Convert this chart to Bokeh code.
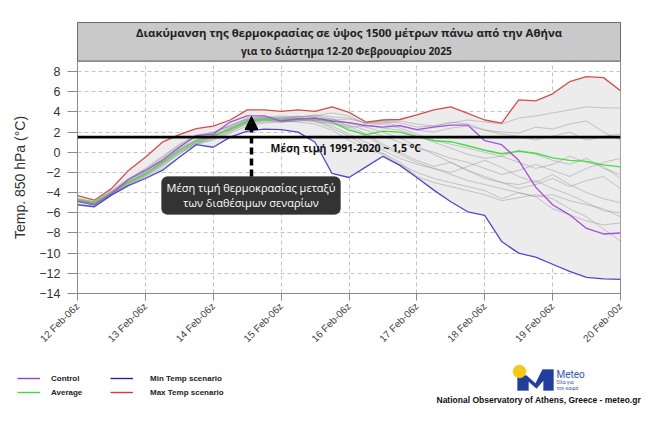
import numpy as np
from math import pi
from bokeh.plotting import figure
from bokeh.layouts import column
from bokeh.models import (Range1d, FixedTicker, Span, Label, BoxAnnotation, PolyAnnotation,
                          Arrow, NormalHead, Legend, LegendItem)
from bokeh.embed import file_html
from bokeh.resources import INLINE

# ---------------- data ----------------
tick_labels = ["12 Feb-06z", "13 Feb-06z", "14 Feb-06z", "15 Feb-06z", "16 Feb-06z",
               "17 Feb-06z", "18 Feb-06z", "19 Feb-06z", "20 Feb-00z"]
steps = list(range(33))

max_scn = [-4.3, -4.75, -3.6, -1.8, -0.5, 1.0, 1.75, 2.35, 2.6, 3.2, 4.2, 4.2, 4.05, 4.2, 4.05, 4.5, 3.95,
           3.0, 3.2, 3.25, 3.7, 4.2, 4.5, 3.85, 3.2, 2.9, 5.2, 5.1, 5.8, 7.0, 7.5, 7.4, 6.1]
min_scn = [-5.2, -5.4, -4.25, -3.3, -2.6, -1.8, -0.5, 0.75, 0.5, 1.5, 2.1, 2.3, 2.25, 2.0, 1.0, -2.1, -2.5,
           -1.45, -0.4, -1.3, -2.5, -3.75, -4.9, -5.9, -6.25, -8.85, -10.0, -10.4, -11.1, -11.8, -12.4, -12.55, -12.6]
control = [-4.85, -5.2, -4.1, -2.7, -1.8, -0.8, 0.5, 1.65, 1.8, 3.0, 3.6, 3.6, 3.1, 3.3, 3.4, 3.1, 2.95,
           2.65, 2.5, 2.65, 2.25, 2.5, 2.7, 2.7, 1.15, 0.75, -0.8, -3.45, -5.2, -6.2, -7.55, -8.1, -8.0]
average = [-4.75, -5.0, -4.0, -2.95, -2.1, -1.0, 0.2, 1.15, 1.65, 2.3, 3.1, 3.3, 3.2, 3.3, 3.35, 3.0, 2.2,
           1.75, 2.1, 2.0, 1.55, 1.15, 1.05, 0.65, 0.2, -0.15, 0.1, -0.1, -0.55, -0.8, -0.9, -1.25, -1.45]

member_01 = [-4.6, -4.9, -3.8, -2.6, -1.6, -0.4, 0.8, 1.7, 2.0, 2.6, 3.4, 3.5, 3.6, 3.5, 3.6, 3.9, 3.6,
             2.8, 2.9, 3.1, 2.8, 2.6, 2.9, 3.2, 3.0, 2.8, 3.4, 3.6, 3.9, 4.2, 4.5, 4.4, 4.4]
member_02 = [-4.8, -5.1, -4.1, -3.0, -2.2, -1.2, 0.0, 1.0, 1.5, 2.4, 3.0, 3.2, 3.0, 3.1, 3.3, 3.2, 3.3,
             2.9, 3.0, 2.6, 2.2, 2.0, 2.4, 2.6, 2.2, 2.0, 1.9, 2.5, 2.3, 2.8, 3.1, 2.0, 1.2]
member_03 = [-4.9, -5.2, -4.2, -3.1, -2.3, -1.3, -0.2, 0.9, 1.4, 2.0, 2.9, 3.1, 3.4, 3.6, 3.1, 2.6, 1.8,
             1.0, 0.2, -0.6, -1.2, -1.6, -2.0, -1.4, -0.8, -1.5, -2.4, -3.0, -2.2, -3.2, -4.0, -4.6, -5.0]
member_04 = [-4.7, -5.0, -3.9, -2.8, -1.9, -0.8, 0.4, 1.3, 1.8, 2.5, 3.2, 3.4, 3.1, 3.0, 2.8, 2.2, 1.2,
             0.3, -0.2, -1.2, -2.0, -2.6, -3.0, -3.4, -3.8, -4.6, -4.0, -4.4, -5.6, -6.2, -6.8, -7.2, -7.0]
member_05 = [-4.9, -5.3, -4.2, -3.2, -2.5, -1.6, -0.5, 0.8, 1.2, 1.9, 2.6, 2.9, 3.0, 3.2, 3.4, 3.3, 2.9,
             2.5, 2.0, 1.4, 0.6, -0.2, -1.0, -1.8, -2.6, -3.0, -3.2, -2.8, -3.6, -4.2, -5.0, -5.8, -6.0]
member_06 = [-4.8, -5.1, -4.0, -2.9, -2.0, -0.9, 0.3, 1.2, 1.7, 2.2, 3.0, 3.2, 3.3, 3.4, 3.2, 2.8, 2.5,
             2.6, 2.8, 2.4, 1.8, 1.2, 0.8, 0.4, 0.0, -0.4, 0.2, -0.2, -0.8, -1.2, -0.6, -1.6, -2.2]
member_07 = [-4.7, -5.0, -4.0, -2.7, -1.8, -0.6, 0.6, 1.5, 1.9, 2.7, 3.3, 3.4, 3.3, 3.5, 3.6, 3.3, 2.6,
             1.8, 0.8, 0.0, -0.8, -1.4, -1.0, -1.8, -2.4, -3.0, -3.6, -3.2, -2.6, -3.4, -2.8, -2.4, -3.6]
member_08 = [-4.8, -5.2, -4.1, -3.0, -2.2, -1.1, 0.1, 1.0, 1.6, 2.3, 3.1, 3.3, 3.1, 3.2, 3.0, 2.9, 2.7,
             2.2, 1.6, 1.0, 0.4, 0.0, -0.6, -1.0, -1.6, -2.2, -1.8, -1.2, -1.8, -2.4, -1.6, -1.0, -0.6]
member_09 = [-4.9, -5.2, -4.2, -3.2, -2.4, -1.4, -0.1, 0.8, 1.3, 2.1, 2.8, 3.0, 3.2, 3.3, 3.1, 2.4, 1.6,
             0.6, -0.1, -1.0, -2.4, -3.0, -3.4, -3.8, -4.2, -4.8, -4.5, -4.2, -4.6, -5.6, -6.4, -7.6, -8.8]
member_10 = [-4.6, -4.9, -3.9, -2.7, -1.7, -0.5, 0.7, 1.6, 2.0, 2.6, 3.3, 3.5, 3.4, 3.5, 3.7, 3.5, 3.4,
             2.9, 3.1, 2.9, 2.5, 2.6, 3.0, 2.8, 2.2, 1.8, 1.6, 1.2, 1.6, 2.0, 1.2, 1.6, 1.8]
member_11 = [-4.8, -5.1, -4.0, -2.9, -2.1, -1.0, 0.2, 1.1, 1.6, 2.4, 3.2, 3.3, 3.5, 3.3, 3.2, 3.1, 2.9,
             2.7, 2.4, 2.2, 1.6, 1.0, 0.4, -0.2, -0.6, -0.4, -1.0, -1.6, -1.2, -0.4, -1.0, -1.4, -2.6]
member_12 = [-4.9, -5.2, -4.2, -3.1, -2.3, -1.2, 0.0, 0.9, 1.5, 2.2, 2.9, 3.2, 3.0, 3.1, 3.2, 3.0, 2.4,
             1.6, 0.6, -0.2, -1.0, -1.6, -2.2, -2.8, -3.2, -3.6, -4.0, -4.4, -4.2, -4.8, -5.2, -5.6, -6.4]
members = [member_01, member_02, member_03, member_04, member_05, member_06,
           member_07, member_08, member_09, member_10, member_11, member_12]

climate_mean = 1.5

FONT = "Liberation Sans"
GFONT = "Open Sans"
W = 661


def blank(height):
    # ranges far away from the data so that legend-only renderers stay invisible
    f = figure(width=W, height=height, x_range=Range1d(1000, 1001), y_range=Range1d(1000, 1001),
               x_axis_type=None, y_axis_type=None, output_backend="svg", toolbar_location=None,
               min_border=0)
    f.frame_align = False
    f.outline_line_color = None
    f.background_fill_color = "white"
    f.border_fill_color = "white"
    return f


# ---------------- title strip (image y 0..61) ----------------
ft = blank(61)
ft.add_layout(BoxAnnotation(left=77, right=620, top=61 - 22, bottom=0.5,
                            left_units="screen", right_units="screen", top_units="screen",
                            bottom_units="screen", fill_color="#c9c9c9", fill_alpha=1,
                            line_color="#6a6a6a", line_width=1, line_alpha=1))
for txt, yy, fs in [("Διακύμανση της θερμοκρασίας σε ύψος 1500 μέτρων πάνω από την Αθήνα", 32, "11.4px"),
                    ("για το διάστημα  12-20 Φεβρουαρίου  2025", 50, "10.2px")]:
    ft.add_layout(Label(x=348.5, y=61 - yy, x_units="screen", y_units="screen", text=txt,
                        text_font=GFONT, text_font_size=fs, text_font_style="bold",
                        text_color="#222222", text_align="center", text_baseline="middle"))

# ---------------- main chart (image y 61..360) ----------------
p = figure(width=W, height=299, x_range=Range1d(0, 32), y_range=Range1d(-14, 9),
           output_backend="svg", toolbar_location=None,
           min_border_left=77, min_border_right=41, min_border_top=0, min_border_bottom=67)
p.frame_align = False
p.background_fill_color = "white"
p.border_fill_color = "white"
p.outline_line_color = "#8a8a8a"

p.varea(x=steps, y1=min_scn, y2=max_scn, fill_color="#ececec")
p.multi_line(xs=[steps] * len(members), ys=members, line_color="#8c8c8c",
             line_width=0.8, line_alpha=0.55)
p.line(steps, average, line_color="#45dd45", line_width=1.4)
p.line(steps, control, line_color="#a64ee6", line_width=1.3)
p.line(steps, min_scn, line_color="#4a4ad0", line_width=1.3)
p.line(steps, max_scn, line_color="#d64c4c", line_width=1.3)

tick_pos = [0, 4, 8, 12, 16, 20, 24, 28, 32]
p.xaxis.ticker = FixedTicker(ticks=tick_pos)
p.xaxis.major_label_overrides = {t: l for t, l in zip(tick_pos, tick_labels)}
p.xaxis.major_label_orientation = pi / 4
p.xaxis.major_label_text_font = FONT
p.xaxis.major_label_text_font_size = "10px"
p.xaxis.major_label_text_color = "#444444"
p.xaxis.axis_line_color = "#8a8a8a"
p.xaxis.major_tick_line_color = "#8a8a8a"
p.xaxis.major_tick_out = 7
p.xaxis.major_tick_in = 0
p.xaxis.minor_tick_line_color = None
p.xaxis.major_label_standoff = 4

p.yaxis.ticker = FixedTicker(ticks=list(range(-14, 9, 2)))
p.yaxis.major_label_text_font = FONT
p.yaxis.major_label_text_font_size = "12.5px"
p.yaxis.major_label_text_color = "#333333"
p.yaxis.axis_line_color = "#8a8a8a"
p.yaxis.major_tick_line_color = "#8a8a8a"
p.yaxis.major_tick_out = 10
p.yaxis.major_tick_in = 0
p.yaxis.minor_tick_line_color = None
p.yaxis.major_label_standoff = 7
p.yaxis.axis_label = "Temp. 850 hPa (°C)"
p.yaxis.axis_label_text_font = FONT
p.yaxis.axis_label_text_font_size = "14px"
p.yaxis.axis_label_text_font_style = "normal"
p.yaxis.axis_label_text_color = "#333333"
p.yaxis.axis_label_standoff = 8

p.xgrid.ticker = FixedTicker(ticks=tick_pos)
p.ygrid.ticker = FixedTicker(ticks=list(range(-14, 9, 2)))
for g in (p.xgrid, p.ygrid):
    g.grid_line_color = "#c4c4c4"
    g.grid_line_dash = "4 3"
    g.grid_line_width = 1

p.add_layout(Span(location=climate_mean, dimension="width", line_color="black", line_width=2.6))


def sx(X):
    return X - 77


def sy(Y):
    return 293 - Y


p.add_layout(Label(x=sx(270), y=sy(147), x_units="screen", y_units="screen",
                   text="Μέση τιμή 1991-2020  ~ 1,5 °C", text_font=GFONT, text_font_size="10.5px",
                   text_font_style="bold", text_color="#111111", text_baseline="middle"))

p.add_layout(BoxAnnotation(left=sx(161), right=sx(340), top=sy(176), bottom=sy(214),
                           left_units="screen", right_units="screen", top_units="screen",
                           bottom_units="screen", fill_color="#333333", fill_alpha=1,
                           line_color="#333333", border_radius=6))
for txt, yy in [("Μέση τιμή θερμοκρασίας μεταξύ", 187), ("των διαθέσιμων σεναρίων", 202)]:
    p.add_layout(Label(x=sx(250.5), y=sy(yy), x_units="screen", y_units="screen", text=txt,
                       text_font=GFONT, text_font_size="11px", text_color="white",
                       text_align="center", text_baseline="middle"))
p.add_layout(Arrow(x_start=sx(251), y_start=sy(176), x_end=sx(251), y_end=sy(116),
                   start_units="screen", end_units="screen", line_color="black",
                   line_width=3.5, line_dash="7 4",
                   end=NormalHead(size=13, fill_color="black", line_color="black", line_width=1)))

# ---------------- bottom strip (image y 360..428) ----------------
fb = blank(68)


def by(Y):
    return 428 - Y


# legend swatches: the same series, drawn outside this strip's visible range
e_ctrl = fb.line(steps, control, line_color="#9b3fd9", line_width=1.4)
e_avg = fb.line(steps, average, line_color="#3fdc3f", line_width=1.4)
e_min = fb.line(steps, min_scn, line_color="#2222aa", line_width=1.4)
e_max = fb.line(steps, max_scn, line_color="#d83a3a", line_width=1.4)

leg1 = Legend(items=[LegendItem(label="Control", renderers=[e_ctrl]),
                     LegendItem(label="Average", renderers=[e_avg])],
              location=(17, by(399)))
leg2 = Legend(items=[LegendItem(label="Min Temp scenario", renderers=[e_min]),
                     LegendItem(label="Max Temp scenario", renderers=[e_max])],
              location=(110, by(399)))
for lg, so in ((leg1, 11), (leg2, 17)):
    lg.padding = 0
    lg.margin = 0
    lg.spacing = 0
    lg.glyph_width = 23
    lg.glyph_height = 14
    lg.label_height = 14
    lg.label_standoff = so
    lg.label_text_font = FONT
    lg.label_text_font_size = "8px"
    lg.label_text_font_style = "bold"
    lg.label_text_color = "#222222"
    lg.border_line_color = None
    lg.background_fill_alpha = 0
    fb.add_layout(lg)

m_x = [517, 517, 526, 535, 542, 553, 553, 543, 543, 536, 528, 528]
m_y = [390, 375, 375, 383, 369, 369, 390, 390, 380, 388, 381, 390]
fb.add_layout(PolyAnnotation(xs=m_x, ys=[by(v) for v in m_y],
                             xs_units="screen", ys_units="screen",
                             fill_color="#1f3e9e", fill_alpha=1, line_color="#1f3e9e"))
th = np.linspace(0, 2 * pi, 40)
fb.add_layout(PolyAnnotation(xs=list(519 + 6.5 * np.cos(th)), ys=list(by(371) + 6.5 * np.sin(th)),
                             xs_units="screen", ys_units="screen",
                             fill_color="#f7c815", fill_alpha=1, line_color="#f7c815"))
fb.add_layout(Label(x=556, y=by(374), x_units="screen", y_units="screen", text="Meteo",
                    text_font="Roboto", text_font_size="10px", text_color="#3355c0",
                    text_baseline="middle"))
for txt, yy in [("Όλα για", 381), ("τον καιρό", 387)]:
    fb.add_layout(Label(x=556, y=by(yy), x_units="screen", y_units="screen", text=txt,
                        text_font="Roboto", text_font_size="5px", text_color="#3355c0",
                        text_baseline="middle"))
fb.add_layout(Label(x=436, y=by(399), x_units="screen", y_units="screen",
                    text="National Observatory of Athens, Greece - meteo.gr",
                    text_font=FONT, text_font_size="8.5px", text_font_style="bold",
                    text_color="#111111", text_baseline="middle"))

layout = column(ft, p, fb, spacing=0)
open("out.html", "w").write(file_html(layout, INLINE))
